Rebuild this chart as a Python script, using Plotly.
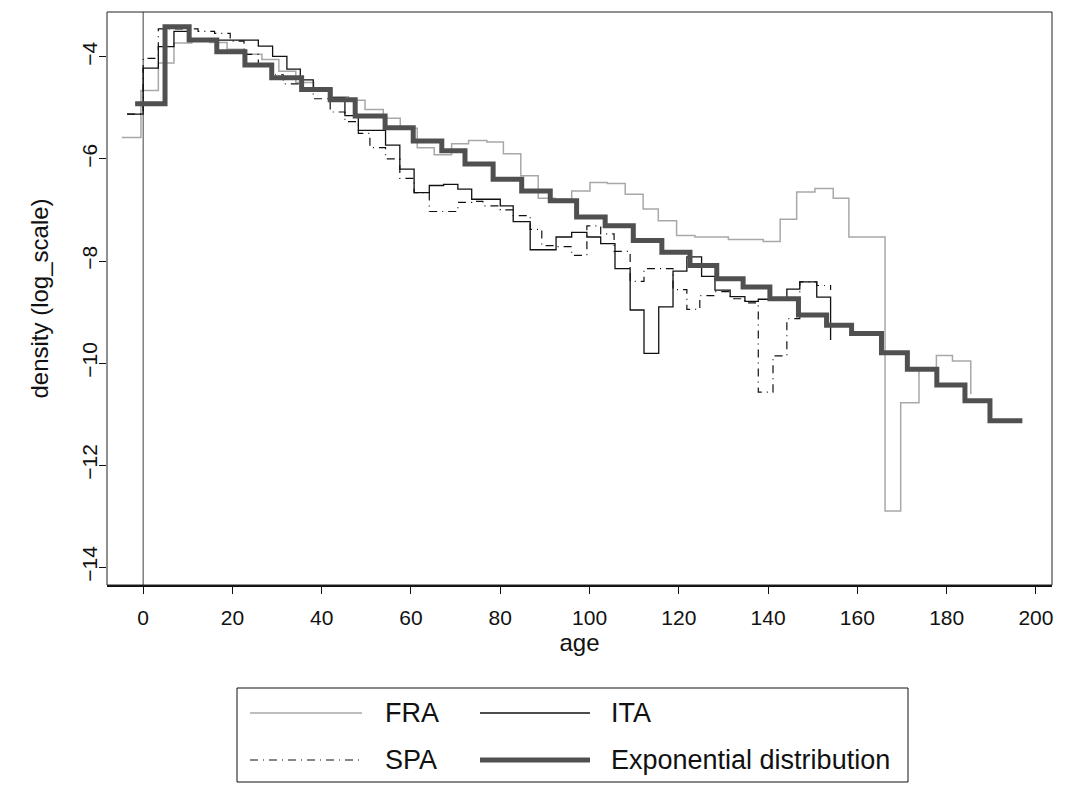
import plotly.graph_objects as go

# ---- data (step plots: left bin edge -> value) ----
fra_edges = [-4.8, -0.5, 3.4, 6.9, 10.9, 14.9, 18.8, 22.8, 26.6, 30.4, 34.2, 38.2, 42.3, 46.0,
             49.7, 53.8, 57.6, 61.4, 65.2, 69.1, 72.9, 77.0, 80.7, 84.6, 88.5, 92.3, 96.0,
             100.1, 104.0, 108.0, 112.0, 115.4, 119.5, 123.6, 127.4, 131.1, 135.0, 138.9,
             142.7, 146.4, 150.5, 154.6, 158.1, 162.2, 166.2, 169.7, 173.8, 177.7, 181.3, 185.4]
fra_vals = [-5.58, -4.66, -4.12, -3.73, -3.65, -3.72, -3.85, -3.95, -4.05, -4.28,
            -4.5, -4.62, -4.78, -4.85, -5.03, -5.2, -5.4, -5.78, -5.92, -5.7,
            -5.64, -5.67, -5.9, -6.33, -6.77, -6.79, -6.63, -6.46, -6.48, -6.69,
            -6.98, -7.21, -7.5, -7.53, -7.53, -7.58, -7.58, -7.62, -7.18, -6.65,
            -6.58, -6.77, -7.53, -7.53, -12.9, -10.78, -10.12, -9.85, -9.96, -10.61]

ita_edges = [-3.6, 0.0, 3.4, 6.9, 10.5, 25.8, 29.0, 32.2, 35.2, 38.1, 41.9, 45.2, 48.2,
             54.3, 57.5, 60.7, 64.1, 67.3, 70.5, 73.6, 80.0, 82.9, 86.7, 92.5, 96.0, 99.4,
             102.5, 105.7, 109.1, 112.2, 115.5, 118.7, 121.8, 125.1, 128.1, 131.5, 134.8,
             137.8, 144.2, 147.1, 150.9, 154.0]
ita_vals = [-5.12, -4.22, -3.8, -3.5, -3.67, -3.79, -3.99, -4.24, -4.45, -4.61,
            -4.8, -5.15, -5.44, -5.73, -6.2, -6.66, -6.52, -6.5, -6.59, -6.79,
            -6.92, -7.23, -7.78, -7.53, -7.44, -7.53, -7.66, -8.15, -8.96, -9.81,
            -8.9, -8.2, -7.92, -8.3, -8.57, -8.7, -8.79, -8.75, -8.55, -8.41,
            -8.71, -9.55]

spa_edges = [-3.6, 0.0, 3.4, 12.3, 16.0, 19.5, 22.6, 25.8, 29.0, 31.4, 35.2, 38.1, 41.9,
             45.2, 48.2, 50.8, 54.3, 57.5, 60.7, 64.1, 70.5, 73.6, 76.1, 80.0, 82.9, 86.7,
             89.3, 92.6, 96.0, 99.4, 102.5, 105.5, 109.1, 112.2, 118.7, 121.8, 124.7,
             128.1, 131.5, 134.8, 137.8, 141.1, 144.2, 147.1, 150.9, 154.0]
spa_vals = [-5.12, -4.03, -3.45, -3.5, -3.54, -3.69, -3.95, -4.16, -4.35, -4.53,
            -4.6, -4.82, -5.08, -5.27, -5.5, -5.78, -6.0, -6.38, -6.66, -7.03,
            -6.85, -6.83, -6.92, -7.0, -7.11, -7.38, -7.7, -7.72, -7.89, -7.31,
            -7.47, -7.81, -8.4, -8.15, -8.56, -8.95, -8.68, -8.6, -8.74, -8.82,
            -10.57, -9.86, -9.13, -8.41, -8.48, -8.57]

exp_edges = [-1.8, 4.9, 10.3, 16.5, 22.8, 28.8, 35.5, 41.9, 47.5, 54.2, 60.5, 66.9, 72.1,
             78.4, 84.8, 91.2, 97.1, 103.5, 109.8, 116.2, 122.5, 128.5, 134.4, 140.4,
             146.8, 153.1, 158.7, 165.4, 171.2, 177.8, 184.1, 189.7, 196.4]
exp_vals = [-4.92, -3.41, -3.67, -3.9, -4.16, -4.41, -4.64, -4.84, -5.16, -5.39,
            -5.65, -5.84, -6.1, -6.4, -6.63, -6.82, -7.14, -7.31, -7.6, -7.83,
            -8.09, -8.35, -8.51, -8.74, -9.06, -9.26, -9.42, -9.8, -10.12, -10.43,
            -10.74, -11.13, -11.08]

x_ticks = [0, 20, 40, 60, 80, 100, 120, 140, 160, 180, 200]
y_ticks = [-14, -12, -10, -8, -6, -4]
legend_names = ["FRA", "ITA", "SPA", "Exponential distribution"]

# ---- figure geometry (pixels) ----
W, H = 1065, 785
ML, MR, MT, MB = 107, 13, 12, 200
PW, PH = W - ML - MR, H - MT - MB


def px(x):
    return (x - ML) / PW


def py(y):
    return (H - MB - y) / PH


FONT = "Liberation Sans, Arial, sans-serif"
styles = {
    "FRA": dict(color="#a8a8a8", width=1.5),
    "ITA": dict(color="#111111", width=1.3),
    "SPA": dict(color="#111111", width=1.2, dash="8px,5px,1px,5px"),
    "Exponential distribution": dict(color="#505050", width=5),
}

fig = go.Figure()

# vertical reference line at age 0
fig.add_vline(x=0, line=dict(color="#404040", width=1), layer="below")

series = [("FRA", fra_edges, fra_vals), ("ITA", ita_edges, ita_vals),
          ("SPA", spa_edges, spa_vals), ("Exponential distribution", exp_edges, exp_vals)]
for name, xs, ys in series:
    fig.add_trace(go.Scatter(
        x=xs, y=ys, mode="lines", name=name,
        line=dict(shape="hv", **styles[name]),
        showlegend=False,
    ))

# box around the plot (bottom axis drawn thicker by the x axis line)
fig.add_shape(type="rect", xref="paper", yref="paper", x0=0, x1=1, y0=0, y1=1,
              line=dict(color="#222222", width=1))

# hand-made legend below the plot, like the R original
fig.add_shape(type="rect", xref="paper", yref="paper",
              x0=px(237), x1=px(908), y0=py(782), y1=py(688),
              line=dict(color="#111111", width=1))
leg_pos = [(250, 362, 383, 713), (480, 590, 609, 713),
           (250, 362, 383, 760), (480, 590, 609, 760)]
for name, (lx0, lx1, tx, ly) in zip(legend_names, leg_pos):
    st = styles[name]
    fig.add_shape(type="line", xref="paper", yref="paper",
                  x0=px(lx0), x1=px(lx1), y0=py(ly), y1=py(ly),
                  line=dict(color=st["color"], width=st["width"], dash=st.get("dash", "solid")))
    fig.add_annotation(text=name, xref="paper", yref="paper", x=px(tx), y=py(ly),
                       xanchor="left", yanchor="middle", showarrow=False,
                       font=dict(size=27, color="#111111", family=FONT))

fig.update_layout(
    width=W, height=H,
    margin=dict(l=ML, r=MR, t=MT, b=MB, pad=0),
    plot_bgcolor="white", paper_bgcolor="white",
    font=dict(family=FONT, color="#111111"),
    showlegend=False,
    xaxis=dict(
        range=[-8.1, 203.6], tickvals=x_ticks, ticks="outside", ticklen=7,
        tickwidth=1, tickcolor="#111111", showline=True, linewidth=2,
        linecolor="#111111", showgrid=False, zeroline=False,
        tickfont=dict(size=21), ticklabelstandoff=6,
        title=dict(text="age", font=dict(size=24), standoff=6),
    ),
    yaxis=dict(
        range=[-14.35, -3.12], tickvals=y_ticks, ticks="outside", ticklen=7,
        tickwidth=1, tickcolor="#111111", showline=False, showgrid=False,
        zeroline=False, tickangle=-90, tickfont=dict(size=21), ticklabelstandoff=-6,
        title=dict(text="density (log_scale)", font=dict(size=24), standoff=22),
    ),
)

# the page body has a default 8px margin; drop it so the figure sits at 0,0
fig.write_html("out.html", config={"displayModeBar": False},
               post_script="document.body.style.margin='0px';")
